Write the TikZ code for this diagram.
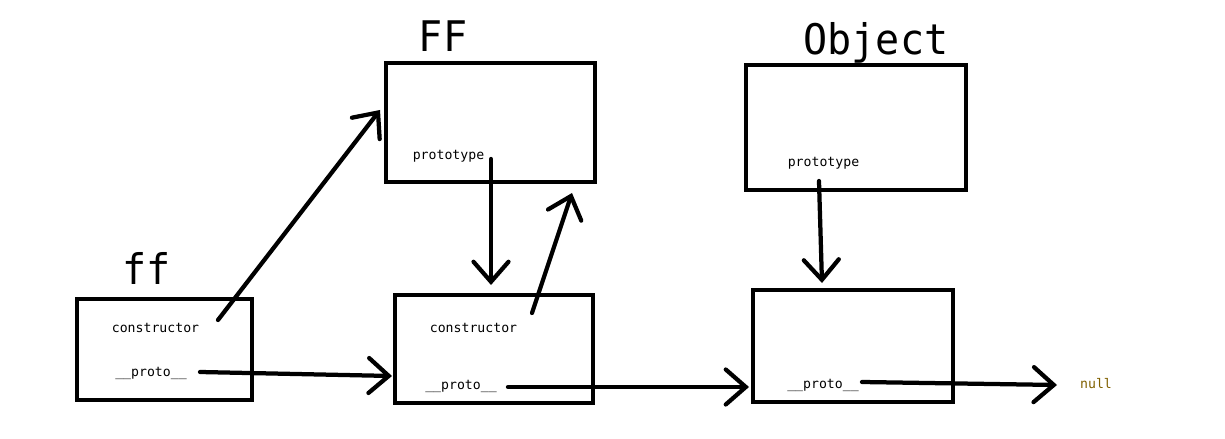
\documentclass[tikz,border=0pt]{standalone}
\usepackage{fontspec}
\usetikzlibrary{arrows.meta}
\newfontfamily\monofont{DejaVu Sans Mono}
\newfontfamily\titlefont[FakeStretch=0.95]{DejaVu Sans Mono}
\definecolor{nullbrown}{RGB}{128,96,0}
\begin{document}
\begin{tikzpicture}[x=0.02cm,y=-0.02cm,
	box/.style={draw,line width=0.09cm,inner sep=0pt},
	lbl/.style={font=\monofont\fontsize{7.5}{8}\selectfont,inner sep=0pt},
	ttl/.style={font=\titlefont\fontsize{24}{25}\selectfont,inner sep=0pt},
	link/.style={line width=0.085cm,line cap=round,-{Straight Barb[length=4mm,width=7mm,line cap=round]}}]
			\useasboundingbox (0,0) rectangle (1225,439);
			% boxes
			\node[box,minimum width=3.5cm,minimum height=2.02cm] (ffbox) at (164.5,349.5) {};
			\node[box,minimum width=4.18cm,minimum height=2.38cm] (FFbox) at (490.5,122.5) {};
			\node[box,minimum width=3.96cm,minimum height=2.16cm] (protobox) at (494,349) {};
			\node[box,minimum width=4.4cm,minimum height=2.5cm] (objbox) at (856,127.5) {};
			\node[box,minimum width=4cm,minimum height=2.24cm] (objproto) at (853,346) {};
			% titles
			\node[ttl] (ffname) at (147,268) {ff};
			\node[ttl] (FFname) at (443,36) {FF};
			\node[ttl] (objname) at (876,43) {Object};
			% texts
			\node[lbl] (ffcons) at (155.5,328) {constructor};
			\node[lbl] (ffproto) at (151,373) {\_\_proto\_\_};
			\node[lbl] (FFprot) at (448.5,156) {prototype};
			\node[lbl] (pcons) at (473.5,328) {constructor};
			\node[lbl] (pproto) at (461,386) {\_\_proto\_\_};
			\node[lbl] (objprot) at (823.5,163) {prototype};
			\node[lbl] (oproto) at (823,385) {\_\_proto\_\_};
			\node[lbl,text=nullbrown] (null) at (1096,384) {null};
			% arrow ends
			\coordinate (a1) at (218,320);
			\coordinate (b1) at (380,110);
			\coordinate (a2) at (200,372);
			\coordinate (b2) at (392,376);
			\coordinate (a3) at (491,159);
			\coordinate (b3) at (491,285);
			\coordinate (a4) at (532,313);
			\coordinate (b4) at (572,193);
			\coordinate (a5) at (508,387);
			\coordinate (b5) at (749,387);
			\coordinate (a6) at (819,181);
			\coordinate (b6) at (822,283);
			\coordinate (a7) at (862,382);
			\coordinate (b7) at (1057,385);
			\foreach \i in {1,...,7}{
				\draw[link] (a\i)--(b\i);
			}
\end{tikzpicture}
\end{document}
